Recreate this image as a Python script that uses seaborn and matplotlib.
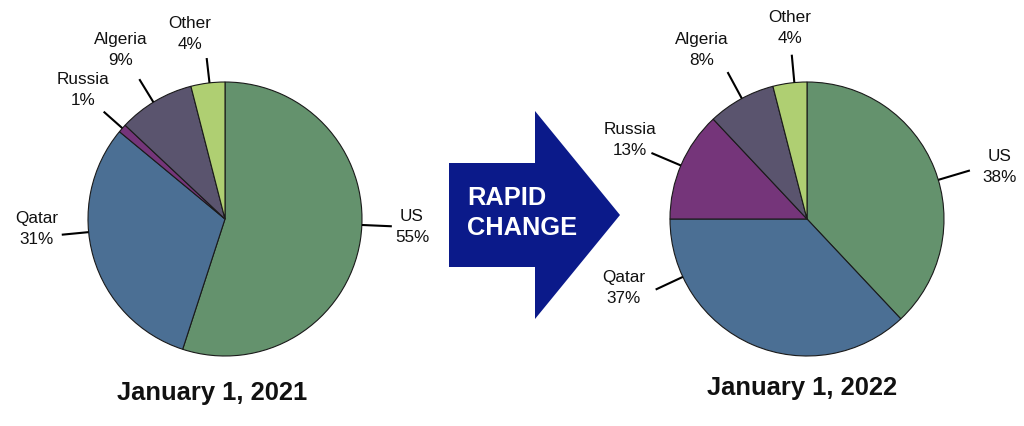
import numpy as np
import matplotlib
matplotlib.use("Agg")
import matplotlib.pyplot as plt
from matplotlib.patches import Polygon
import seaborn as sns

# ---- data ----
categories = ["US", "Qatar", "Russia", "Algeria", "Other"]
share_2021 = [55, 31, 1, 9, 4]
share_2022 = [38, 37, 13, 8, 4]
titles = ["January 1, 2021", "January 1, 2022"]
arrow_text = "RAPID\nCHANGE"

# ---- style ----
sns.set_style("white")
plt.rcParams['font.family'] = ['Liberation Sans', 'DejaVu Sans']
palette = sns.color_palette(["#64926D", "#4B6F94", "#75357A", "#5A546E", "#AFCF72"])

W, H = 1024, 426
fig = plt.figure(figsize=(W / 100, H / 100), dpi=100)
ax = fig.add_axes([0, 0, 1, 1])

def fy(y):
    return H - y

R = 137
pie_centers = [(225, 219), (807, 219)]
# leader line angles (deg) and text positions (image px) per pie
leader_angles = [[-2.5, 185.5, 138.5, 121.5, 96.5],
                 [16.6, 205.0, 157.0, 118.4, 95.3]]
leader_outer = [[167, 164, 162, 164, 162],
                [170, 167, 169, 167, 165]]
text_pos = [[(412, 227), (37, 229), (83, 90),
             (121, 50), (190, 34)],
            [(1000, 167), (624, 288), (630, 140),
             (702, 50), (790, 28)]]
title_pos = [(212, 393), (802, 388)]

for k, shares in enumerate([share_2021, share_2022]):
    cx, cy = pie_centers[k]
    ax.pie(shares, colors=palette, startangle=90, counterclock=False,
           center=(cx, fy(cy)), radius=R, frame=True,
           wedgeprops=dict(edgecolor="#1a1a1a", linewidth=0.8))
    for i, (cat, v) in enumerate(zip(categories, shares)):
        a = np.deg2rad(leader_angles[k][i])
        r1 = R
        r2 = leader_outer[k][i]
        ax.plot([cx + r1 * np.cos(a), cx + r2 * np.cos(a)],
                [fy(cy) + r1 * np.sin(a), fy(cy) + r2 * np.sin(a)],
                color="black", lw=1.5, solid_capstyle="butt")
        tx, ty = text_pos[k][i]
        ax.text(tx, fy(ty), f"{cat}\n{v}%", ha="center", va="center",
                fontsize=12.3, color="#111111", linespacing=1.42)
    ax.text(title_pos[k][0], fy(title_pos[k][1]), titles[k], ha="center",
            va="center", fontsize=18.4, fontweight="bold", color="#111111")

# arrow
arrow_pts = [(449, 163), (535, 163), (535, 111), (620, 215),
             (535, 319), (535, 267), (449, 267)]
ax.add_patch(Polygon([(x, fy(y)) for x, y in arrow_pts], closed=True,
                     facecolor="#0B1A8A", edgecolor="none"))
ax.text(467, fy(213), arrow_text, ha="left", va="center", fontsize=18.3,
        fontweight="bold", color="white", linespacing=1.32)

ax.set_xlim(0, W)
ax.set_ylim(0, H)
ax.set_aspect("equal")
ax.axis("off")
fig.savefig("out.png", dpi=100, facecolor="white")
